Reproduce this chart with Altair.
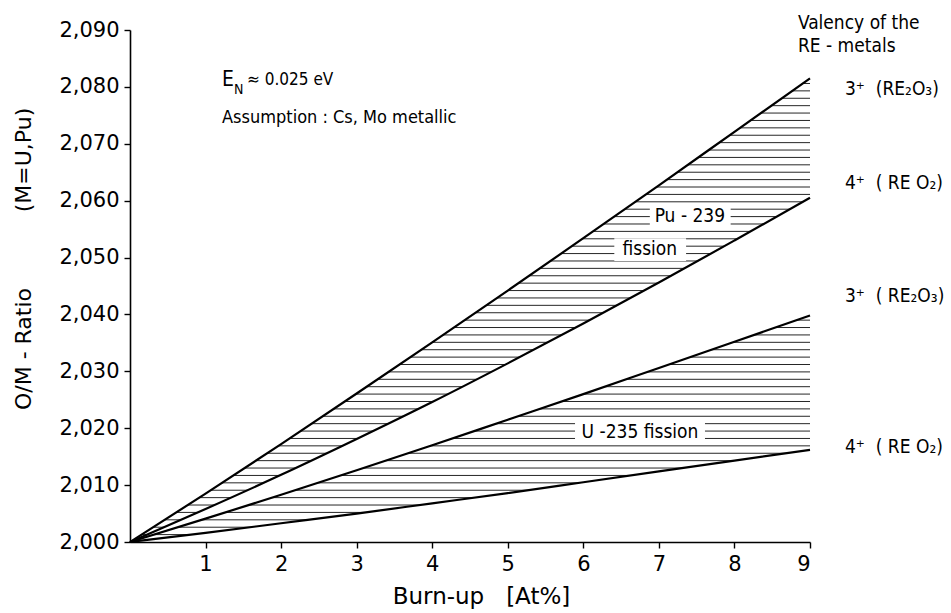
import altair as alt
import numpy as np
import pandas as pd

# Burn-up [At%] and O/M ratio for the two fissile nuclides and both RE valencies
burnup = [0, 1, 2, 3, 4, 5, 6, 7, 8, 9]
pu_re2o3 = [2.0000, 2.0085, 2.0172, 2.0261, 2.0351, 2.0442, 2.0534, 2.0627, 2.0721, 2.0815]
pu_reo2 = [2.0000, 2.0058, 2.0118, 2.0181, 2.0246, 2.0314, 2.0384, 2.0456, 2.0530, 2.0605]
u_re2o3 = [2.0000, 2.0041, 2.0083, 2.0126, 2.0170, 2.0215, 2.0260, 2.0306, 2.0352, 2.0398]
u_reo2 = [2.0000, 2.0016, 2.0033, 2.0050, 2.0068, 2.0086, 2.0105, 2.0124, 2.0143, 2.0162]

x_ticks = [1, 2, 3, 4, 5, 6, 7, 8, 9]
y_ticks = [2.000, 2.010, 2.020, 2.030, 2.040, 2.050, 2.060, 2.070, 2.080, 2.090]

X_DOM = [0, 9]
Y_DOM = [2.000, 2.090]

FONT = "DejaVu Sans"
NARROW = "DejaVu Sans Condensed, Liberation Sans Narrow, sans-serif"
NB = "\u00a0"

xs = alt.Scale(domain=X_DOM, nice=False, zero=False)
ys = alt.Scale(domain=Y_DOM, nice=False, zero=False)

x_axis = alt.Axis(values=x_ticks, title=f"Burn-up{NB*3}[At%]", format="d",
                  titleX=351, titleY=54, titleBaseline="middle",
                  titleAnchor="start", titleAlign="center", zindex=2)
y_axis = alt.Axis(values=y_ticks, title="", zindex=2,
                  labelExpr="replace(format(datum.value, '.3f'), '.', ',')")

bands = pd.DataFrame({
    "burnup": burnup,
    "pu3": pu_re2o3,
    "pu4": pu_reo2,
    "u3": u_re2o3,
    "u4": u_reo2,
    "top": [Y_DOM[1]] * len(burnup),
    "bottom": [Y_DOM[0]] * len(burnup),
})

curves = pd.concat([
    pd.DataFrame({"burnup": burnup, "ratio": vals, "curve": name})
    for name, vals in [("pu3", pu_re2o3), ("pu4", pu_reo2), ("u3", u_re2o3), ("u4", u_reo2)]
])

INTERP = "monotone"

# horizontal hatching: full-width strokes, later masked outside the two bands
hatch_step = 0.0013
hatch = pd.DataFrame({"lvl": Y_DOM[0] + np.arange(1, 63) * hatch_step})
hatch["x0"] = X_DOM[0]
hatch["x1"] = X_DOM[1]

hatch_layer = alt.Chart(hatch).mark_rule(color="#262626", strokeWidth=1).encode(
    x=alt.X("x0:Q", scale=xs, axis=x_axis),
    x2="x1:Q",
    y=alt.Y("lvl:Q", scale=ys, axis=y_axis),
)

mask_style = dict(color="white", opacity=1, interpolate=INTERP)
mask_top = alt.Chart(bands).mark_area(**mask_style).encode(
    x=alt.X("burnup:Q", scale=xs, axis=x_axis),
    y=alt.Y("pu3:Q", scale=ys, axis=y_axis), y2="top:Q")
mask_mid = alt.Chart(bands).mark_area(**mask_style).encode(
    x=alt.X("burnup:Q", scale=xs, axis=x_axis),
    y=alt.Y("u3:Q", scale=ys, axis=y_axis), y2="pu4:Q")
mask_low = alt.Chart(bands).mark_area(**mask_style).encode(
    x=alt.X("burnup:Q", scale=xs, axis=x_axis),
    y=alt.Y("bottom:Q", scale=ys, axis=y_axis), y2="u4:Q")

# white boxes that keep the band labels clear of the hatching
boxes = pd.DataFrame({
    "x0": [6.88, 6.41, 5.89],
    "x1": [7.95, 7.36, 7.61],
    "y0": [2.0552, 2.0494, 2.0172],
    "y1": [2.0592, 2.0534, 2.0213],
})
box_layer = alt.Chart(boxes).mark_rect(color="white").encode(
    x=alt.X("x0:Q", scale=xs, axis=x_axis), x2="x1:Q",
    y=alt.Y("y0:Q", scale=ys, axis=y_axis), y2="y1:Q")

line_layer = alt.Chart(curves).mark_line(
    color="black", strokeWidth=2.2, interpolate=INTERP).encode(
    x=alt.X("burnup:Q", scale=xs, axis=x_axis),
    y=alt.Y("ratio:Q", scale=ys, axis=y_axis),
    detail="curve:N",
)

left_text = pd.DataFrame({
    "label": ["E", "N", "\u2248 0.025 eV", "Assumption : Cs, Mo metallic",
              "Valency of the", "RE - metals",
              f"3\u207a{NB*2}(RE\u2082O\u2083)", f"4\u207a{NB*2}( RE O\u2082)",
              f"3\u207a{NB*2}( RE\u2082O\u2083)", f"4\u207a{NB*2}( RE O\u2082)"],
    "bx": [1.218, 1.375, 1.55, 1.218, 8.84, 8.84, 9.463, 9.463, 9.463, 9.463],
    "by": [2.0812, 2.0794, 2.0812, 2.0745, 2.0912, 2.0872, 2.0796, 2.0631, 2.0432, 2.0167],
    "fs": [21, 14, 17, 18, 19, 19, 19, 19, 19, 19],
})
left_layer = alt.Chart(left_text).mark_text(
    align="left", baseline="middle", font=NARROW, color="black").encode(
    x=alt.X("bx:Q", scale=xs, axis=x_axis),
    y=alt.Y("by:Q", scale=ys, axis=y_axis),
    text="label:N",
    size=alt.Size("fs:Q", scale=None, legend=None),
)

band_text = pd.DataFrame({
    "label": ["Pu - 239", "fission", "U -235 fission"],
    "bx": [7.41, 6.88, 6.75],
    "by": [2.0573, 2.0515, 2.0193],
})
band_layer = alt.Chart(band_text).mark_text(
    align="center", baseline="middle", font=NARROW, fontSize=19, color="black").encode(
    x=alt.X("bx:Q", scale=xs, axis=x_axis),
    y=alt.Y("by:Q", scale=ys, axis=y_axis),
    text="label:N",
)

# rotated y-axis title in two parts, placed in pixels left of the axis
ytitle = pd.DataFrame({"label": ["O/M - Ratio", "(M=U,Pu)"]})
ytitle_style = dict(align="center", baseline="middle", angle=270, font=FONT,
                    fontSize=22, color="black")
ytitle_a = alt.Chart(ytitle.iloc[[0]]).mark_text(**ytitle_style).encode(
    x=alt.value(-106), y=alt.value(319), text="label:N")
ytitle_b = alt.Chart(ytitle.iloc[[1]]).mark_text(**ytitle_style).encode(
    x=alt.value(-106), y=alt.value(130), text="label:N")

chart = alt.layer(
    hatch_layer, mask_top, mask_mid, mask_low, box_layer, line_layer,
    left_layer, band_layer, ytitle_a, ytitle_b,
).properties(
    width=680, height=512,
    padding={"left": 130, "top": 30, "right": 141, "bottom": 71},
    autosize=alt.AutoSizeParams(type="none"),
    background="white",
).configure_view(
    stroke=None
).configure_axis(
    grid=False,
    domainColor="black", domainWidth=1.6,
    tickColor="black", tickWidth=1.4, tickSize=6,
    labelColor="black", labelFont=FONT, labelFontSize=21,
    labelPadding=5,
    titleColor="black", titleFont=FONT, titleFontSize=23, titleFontWeight="normal",
)

chart.save("out.html", embed_options={"renderer": "svg", "actions": False})
